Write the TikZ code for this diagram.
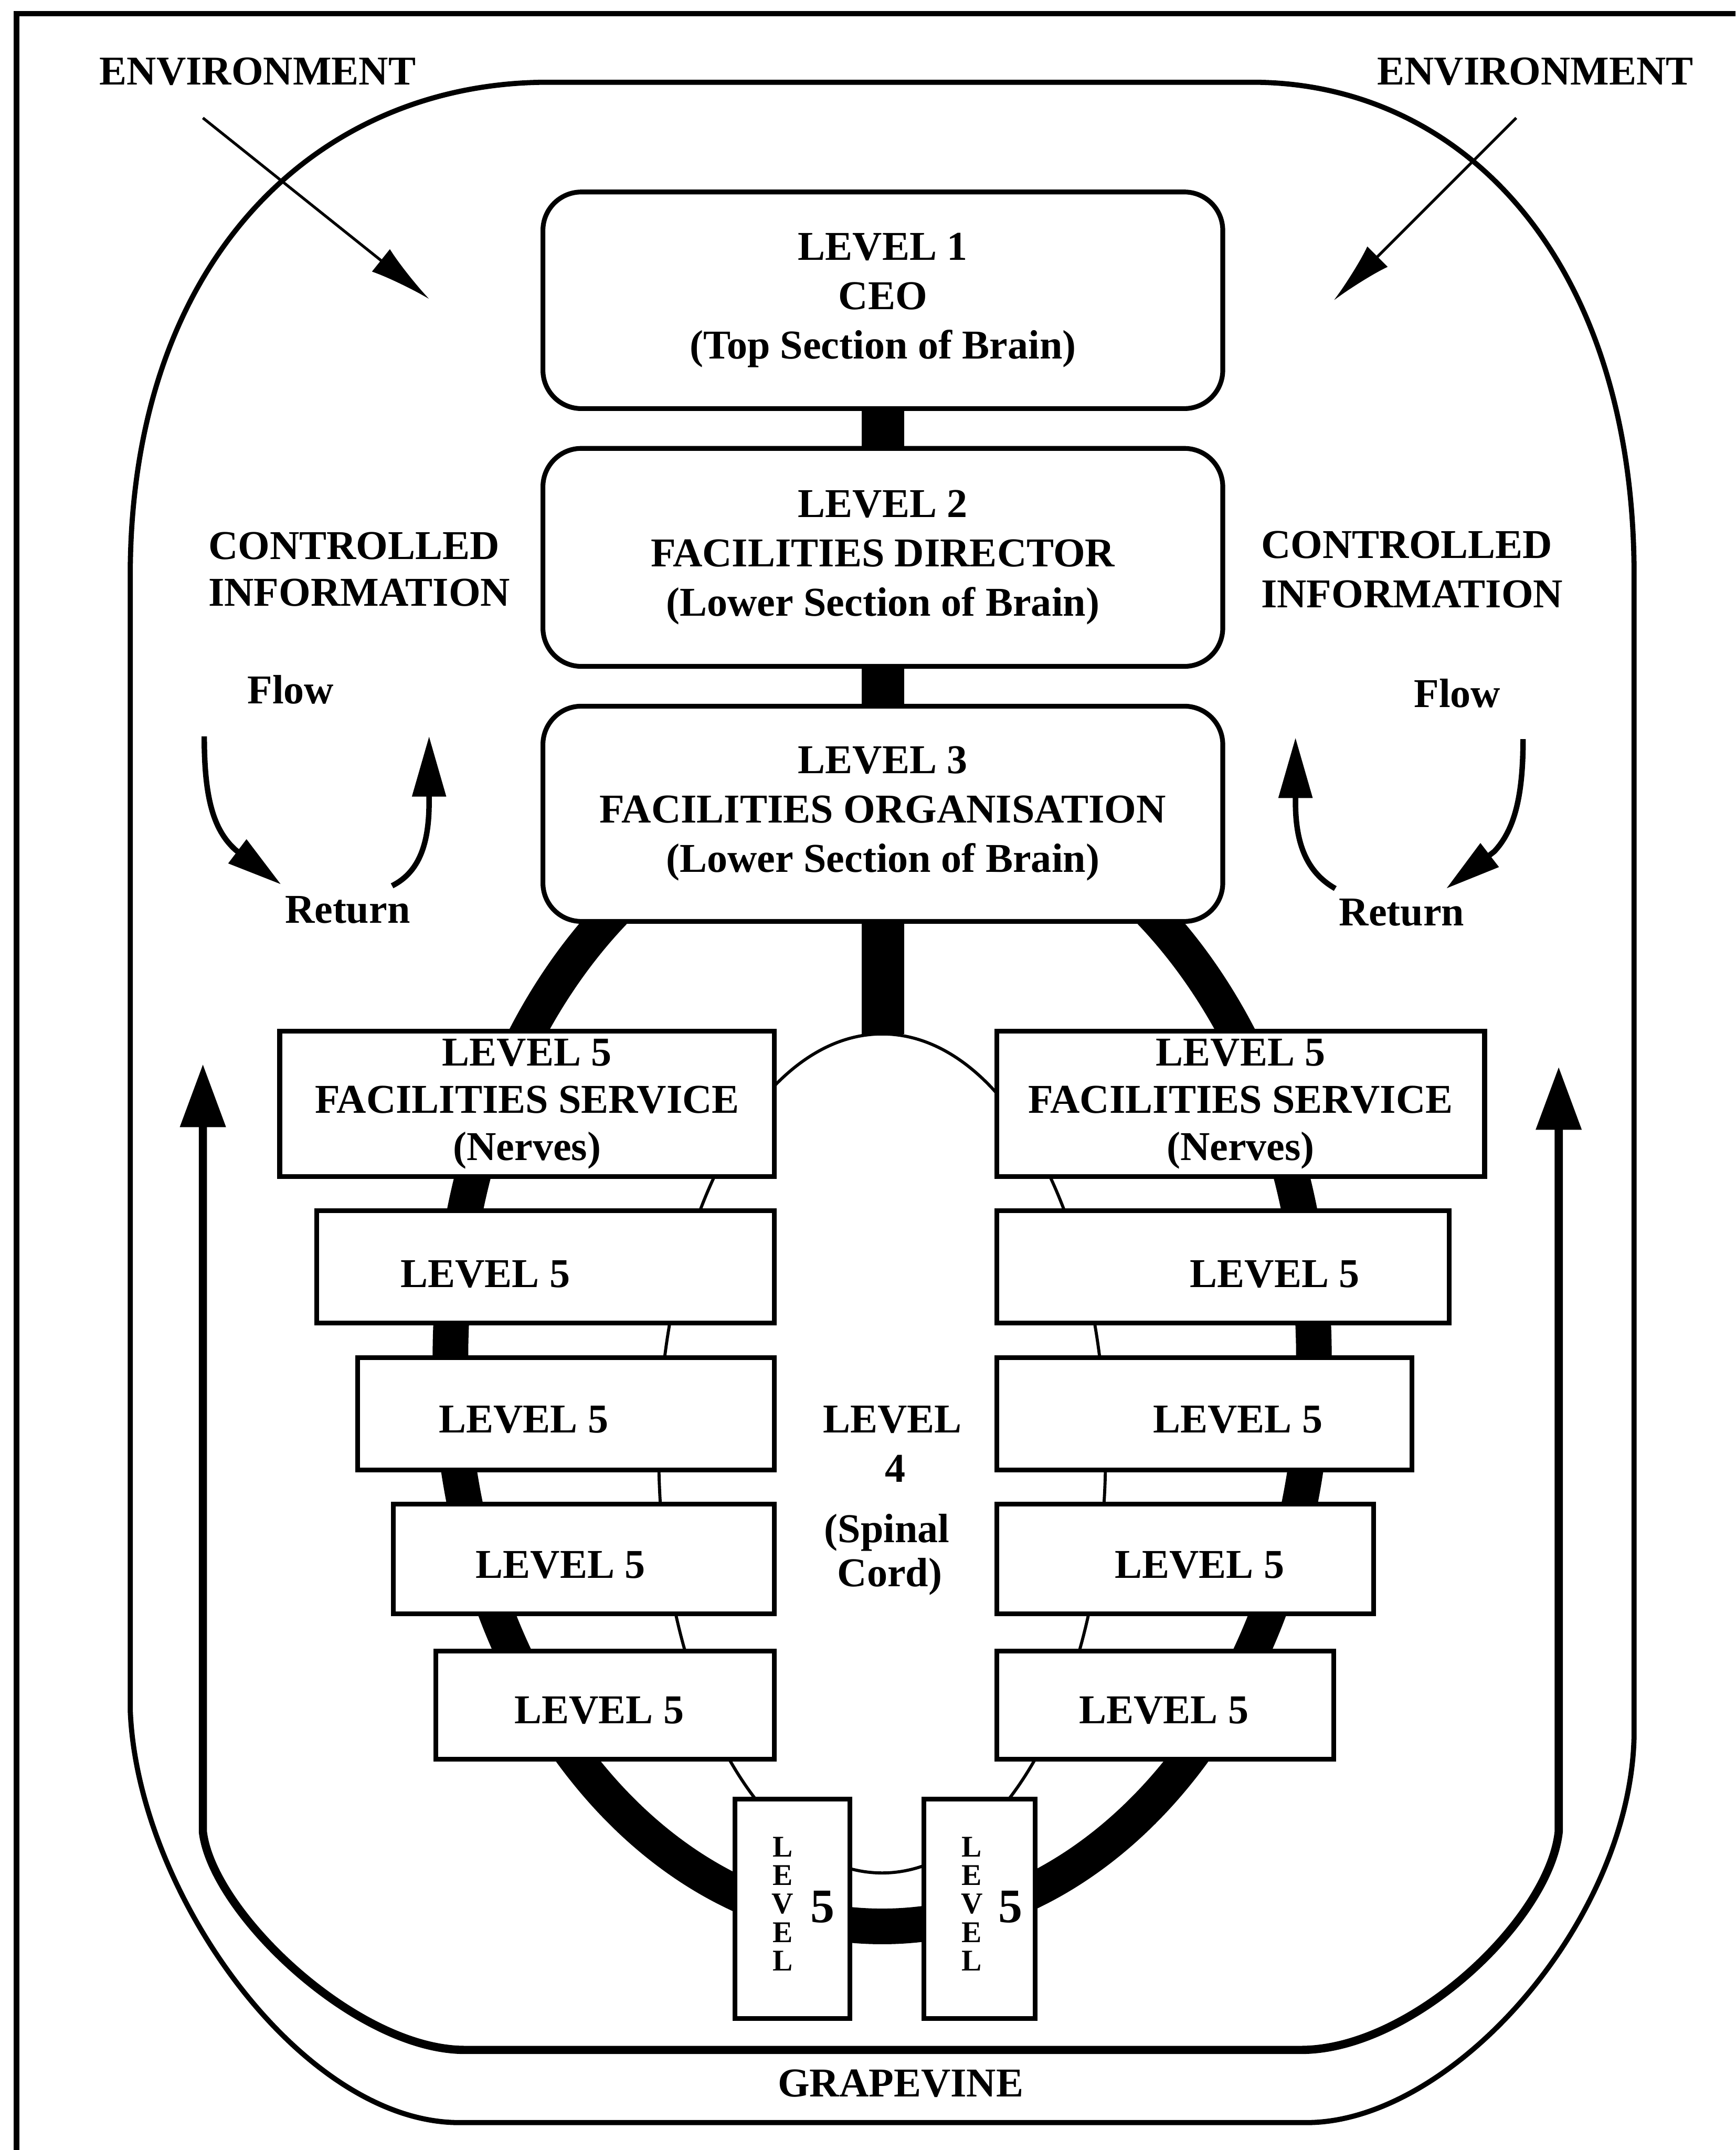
\documentclass[tikz,border=0pt]{standalone}
\usepackage{fontspec}
\setmainfont{Liberation Serif}
\usetikzlibrary{arrows.meta}
\begin{document}
\begin{tikzpicture}[x=0.02cm, y=-0.02cm,
  every node/.style={inner sep=0pt, outer sep=0pt},
  bigtxt/.style={font=\bfseries\fontsize{17}{20.5}\selectfont},
  framerule/.style={line width=0.08cm},
  boundary/.style={line width=0.075cm, line join=round},
  brainbox/.style={draw, line width=0.07cm, fill=white, rounded corners=0.56cm,
    minimum width=9.92cm, align=center, bigtxt},
  nervebox/.style={draw, line width=0.07cm, fill=white},
  fsbox/.style={nervebox, minimum height=2.12cm, align=center,
    font=\bfseries\fontsize{17}{19.6}\selectfont},
  bar/.style={line width=0.62cm},
  ring/.style={line width=0.52cm},
  cord/.style={line width=0.045cm},
  envarrow/.style={line width=0.04cm, -{Latex[length=0.9cm,width=0.42cm]}},
  loopflow/.style={line width=0.08cm, -{Triangle[length=0.8cm,width=0.42cm]}},
  loopreturn/.style={line width=0.08cm, -{Triangle[length=0.88cm,width=0.48cm]}},
  grapevine/.style={line width=0.12cm, line join=round,
    {Triangle[length=0.92cm,width=0.64cm]}-{Triangle[length=0.92cm,width=0.64cm]}},
  vletters/.style={font=\bfseries\fontsize{12.5}{11.8}\selectfont, align=center},
  vfive/.style={font=\bfseries\fontsize{20}{20}\selectfont, anchor=base},
]
\useasboundingbox (0,0) rectangle (1266,1568);

% page frame
\draw[framerule] (12,1568) -- (12,10) -- (1266,10);

% environment boundary of the organisation
\draw[boundary] (396,60) -- (917,60)
  .. controls (1068,62) and (1192,190) .. (1192,420) -- (1192,1265)
  .. controls (1190,1400) and (1060,1548) .. (953,1548) -- (335,1548)
  .. controls (220,1548) and (100,1380) .. (95,1247) -- (95,420)
  .. controls (95,190) and (230,62) .. cycle;

% environment inputs
\coordinate (envLs) at (148,86);  \coordinate (envLt) at (313,218);
\coordinate (envRs) at (1106,86); \coordinate (envRt) at (973,219);
\draw[envarrow] (envLs) -- (envLt);
\draw[envarrow] (envRs) -- (envRt);

% grapevine loop
\coordinate (gvL) at (148,776);
\coordinate (gvR) at (1137,778);
\draw[grapevine] (gvL) -- (148,1336)
  .. controls (155,1395) and (260,1495) .. (339,1495) -- (949,1495)
  .. controls (1030,1495) and (1130,1400) .. (1137,1336) -- (gvR);

% nerve ring and spinal cord outline
\draw[ring] (643.5,990) ellipse [x radius=6.3cm, y radius=8.3cm];
\draw[cord] (643.5,1060) ellipse [x radius=3.26cm, y radius=6.12cm];

% brain levels
\node[brainbox, minimum height=3.16cm] (L1) at (644,219)
  {LEVEL 1\\CEO\\(Top Section of Brain)};
\node[brainbox, minimum height=3.18cm] (L2) at (644,406.5)
  {LEVEL 2\\FACILITIES DIRECTOR\\(Lower Section of Brain)};
\node[brainbox, minimum height=3.14cm] (L3) at (644,593.5)
  {LEVEL 3\\FACILITIES ORGANISATION\\(Lower Section of Brain)};

\coordinate (spinetop) at (644,754);
\draw[bar] (L1.south) -- (L2.north);
\draw[bar] (L2.south) -- (L3.north);
\draw[bar] (L3.south) -- (spinetop);

% facilities service boxes
\node[fsbox, minimum width=7.22cm] (FSL) at (384.5,805)
  {LEVEL 5\\FACILITIES SERVICE\\(Nerves)};
\node[fsbox, minimum width=7.12cm] (FSR) at (905,805)
  {LEVEL 5\\FACILITIES SERVICE\\(Nerves)};

% level 5 boxes, left column
\node[nervebox, minimum width=6.68cm, minimum height=1.64cm] (B2L) at (398,924) {};
\node[nervebox, minimum width=6.08cm, minimum height=1.64cm] (B3L) at (413,1031) {};
\node[nervebox, minimum width=5.56cm, minimum height=1.60cm] (B4L) at (426,1137) {};
\node[nervebox, minimum width=4.94cm, minimum height=1.58cm] (B5L) at (441.5,1243.5) {};
% level 5 boxes, right column
\node[nervebox, minimum width=6.60cm, minimum height=1.64cm] (B2R) at (892,924) {};
\node[nervebox, minimum width=6.06cm, minimum height=1.64cm] (B3R) at (878.5,1031) {};
\node[nervebox, minimum width=5.50cm, minimum height=1.60cm] (B4R) at (864.5,1137) {};
\node[nervebox, minimum width=4.92cm, minimum height=1.58cm] (B5R) at (850,1243.5) {};
% upright boxes at the base
\node[nervebox, minimum width=1.68cm, minimum height=3.2cm] (VL) at (578,1392) {};
\node[nervebox, minimum width=1.62cm, minimum height=3.2cm] (VR) at (714.5,1392) {};

% labels of the level 5 boxes
\node[bigtxt, anchor=base] (t2L) at (354,939) {LEVEL 5};
\node[bigtxt, anchor=base] (t3L) at (382,1045) {LEVEL 5};
\node[bigtxt, anchor=base] (t4L) at (409,1151) {LEVEL 5};
\node[bigtxt, anchor=base] (t5L) at (437,1257) {LEVEL 5};
\node[bigtxt, anchor=base] (t2R) at (930,939) {LEVEL 5};
\node[bigtxt, anchor=base] (t3R) at (903,1045) {LEVEL 5};
\node[bigtxt, anchor=base] (t4R) at (875,1151) {LEVEL 5};
\node[bigtxt, anchor=base] (t5R) at (849,1257) {LEVEL 5};

\node[vletters] (vlL) at (571,1388.5) {L\\E\\V\\E\\L};
\node[vfive] (v5L) at (600,1402) {5};
\node[vletters] (vlR) at (709,1388.5) {L\\E\\V\\E\\L};
\node[vfive] (v5R) at (737,1402) {5};

% spinal cord
\node[bigtxt, anchor=base] (s1) at (651,1045) {LEVEL};
\node[bigtxt, anchor=base] (s2) at (653,1081) {4};
\node[bigtxt, anchor=base] (s3) at (647,1125) {(Spinal};
\node[bigtxt, anchor=base] (s4) at (649,1157) {Cord)};

% outer labels
\node[bigtxt, anchor=base] (envL) at (188,62) {ENVIRONMENT};
\node[bigtxt, anchor=base] (envR) at (1120,62) {ENVIRONMENT};
\node[bigtxt, anchor=base west] (ciL1) at (152,408) {CONTROLLED};
\node[bigtxt, anchor=base west] (ciL2) at (152,442) {INFORMATION};
\node[bigtxt, anchor=base west] (ciR1) at (920,407) {CONTROLLED};
\node[bigtxt, anchor=base west] (ciR2) at (920,443) {INFORMATION};
\node[bigtxt, anchor=base] (flowL) at (212,513) {Flow};
\node[bigtxt, anchor=base] (flowR) at (1063,516) {Flow};
\node[bigtxt, anchor=base] (retL) at (253.5,673) {Return};
\node[bigtxt, anchor=base] (retR) at (1022.5,675) {Return};
\node[bigtxt, anchor=base] (gv) at (657,1529) {GRAPEVINE};

% information flow and return loops
\coordinate (fLs) at (149,537);  \coordinate (fLt) at (205,645);
\coordinate (rLs) at (286,646);  \coordinate (rLt) at (313,537);
\coordinate (fRs) at (1111,539); \coordinate (fRt) at (1055,648);
\coordinate (rRs) at (974,648);  \coordinate (rRt) at (945,538);
\draw[loopflow] (fLs) .. controls (149,580) and (155,605) .. (172,620) -- (fLt);
\draw[loopreturn] (rLs) .. controls (306,636) and (313,615) .. (313,585) -- (rLt);
\draw[loopflow] (fRs) .. controls (1111,580) and (1105,605) .. (1090,621) -- (fRt);
\draw[loopreturn] (rRs) .. controls (953,636) and (945,615) .. (945,585) -- (rRt);
\end{tikzpicture}
\end{document}
